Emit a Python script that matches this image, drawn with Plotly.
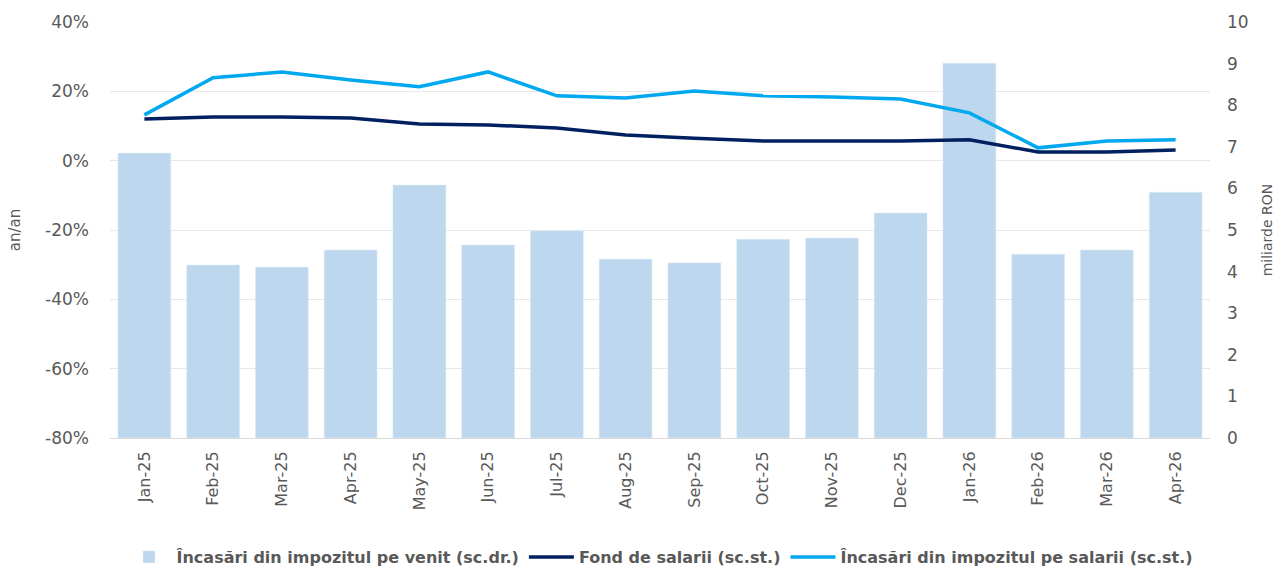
import plotly.graph_objects as go

months = ["Jan-25", "Feb-25", "Mar-25", "Apr-25", "May-25", "Jun-25", "Jul-25", "Aug-25",
          "Sep-25", "Oct-25", "Nov-25", "Dec-25", "Jan-26", "Feb-26", "Mar-26", "Apr-26"]
venit = [6.85, 4.16, 4.11, 4.52, 6.08, 4.64, 4.98, 4.30, 4.21, 4.78, 4.81, 5.41, 9.01, 4.42, 4.52, 5.91]
fond = [12.0, 12.6, 12.6, 12.3, 10.6, 10.3, 9.4, 7.4, 6.5, 5.7, 5.7, 5.7, 6.0, 2.5, 2.5, 3.1]
salarii = [13.2, 23.9, 25.6, 23.3, 21.3, 25.6, 18.7, 18.1, 20.1, 18.7, 18.4, 17.8, 13.8, 3.7, 5.7, 6.0]
left_ticks = [-80, -60, -40, -20, 0, 20, 40]
left_labels = ["-80%", "-60%", "-40%", "-20%", "0%", "20%", "40%"]

font_family = "DejaVu Sans"
gray = "#595959"

fig = go.Figure()
fig.add_trace(go.Bar(x=months, y=venit, name="Încasări din impozitul pe venit (sc.dr.)",
                     marker=dict(color="#BDD7EE"), yaxis="y"))
fig.add_trace(go.Scatter(x=months, y=fond, name="Fond de salarii (sc.st.)",
                         mode="lines", line=dict(color="#002060", width=3.5), yaxis="y2"))
fig.add_trace(go.Scatter(x=months, y=salarii,
                         name="Încasări din impozitul pe salarii (sc.st.)",
                         mode="lines", line=dict(color="#00A8F0", width=3.5), yaxis="y2"))

fig.update_layout(
    width=1278, height=570,
    margin=dict(l=110, r=68, t=22, b=132, autoexpand=False),
    paper_bgcolor="white", plot_bgcolor="white",
    font=dict(family=font_family, color=gray, size=14),
    bargap=0.23,
    showlegend=True,
    legend=dict(orientation="h", x=0.5, xanchor="center", y=-0.286, yanchor="middle",
                font=dict(family=font_family, size=16, color=gray, weight="bold"),
                itemwidth=45, traceorder="normal"),
    xaxis=dict(tickangle=-90, tickfont=dict(size=16, color=gray), showline=True,
               linecolor="#D9D9D9", linewidth=1, ticks="", showgrid=False,
               ticklabelstandoff=6),
    yaxis=dict(range=[0, 10], dtick=1, side="right", showgrid=False,
               zeroline=False, tickfont=dict(size=17, color=gray), ticklabelstandoff=16,
               title=dict(text="miliarde RON", font=dict(size=14, color=gray), standoff=14)),
    yaxis2=dict(range=[-80, 40], tickvals=left_ticks, ticktext=left_labels, showgrid=True,
                overlaying="y", side="left",
                gridcolor="#E8E8E8", zeroline=False, tickfont=dict(size=17, color=gray),
                ticklabelstandoff=20,
                title=dict(text="an/an", font=dict(size=15, color=gray), standoff=20)),
)

fig.write_html("out.html", config={"displayModeBar": False},
               post_script="document.body.style.margin='0';document.body.style.overflow='hidden';")
